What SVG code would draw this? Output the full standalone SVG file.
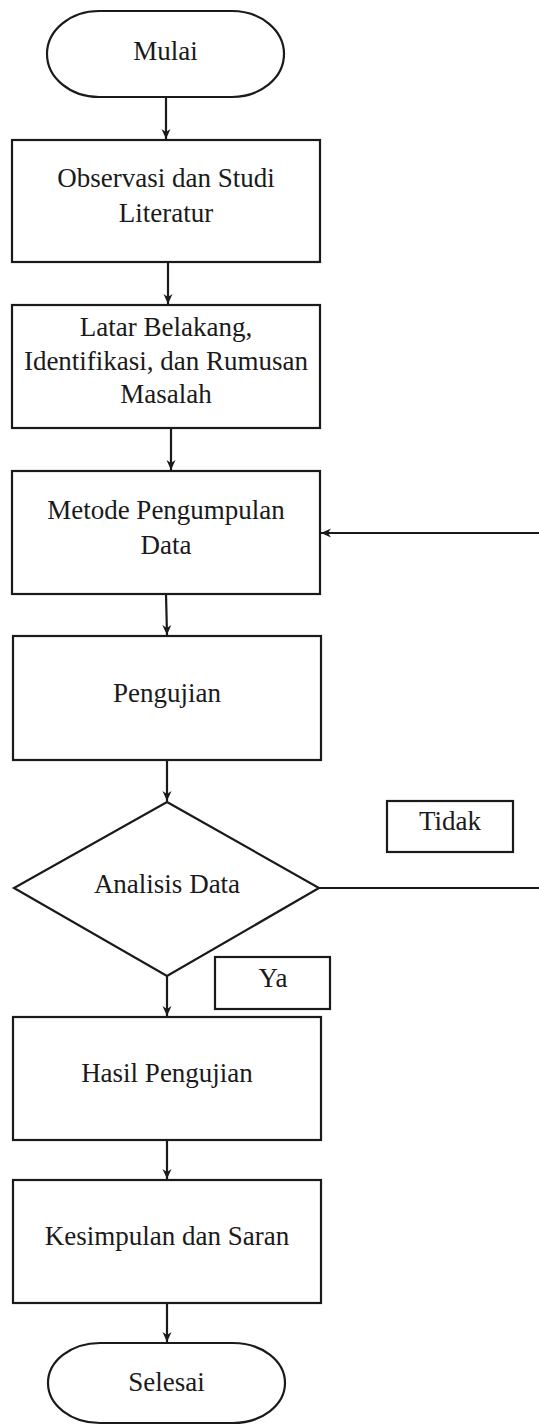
<svg xmlns="http://www.w3.org/2000/svg" width="539" height="1425" viewBox="0 0 539 1425">
<style>
.s{fill:#fff;stroke:#1a1a1a;stroke-width:2.2}
.t{font-family:"Liberation Serif","Times New Roman",serif;font-size:27px;fill:#1a1a1a;text-anchor:middle}
.c{fill:none;stroke:#1a1a1a;stroke-width:2.2}
</style>
<defs>
<marker id="ah" markerUnits="userSpaceOnUse" markerWidth="12" markerHeight="12" viewBox="0 0 12 12" refX="11" refY="6" orient="auto">
<path d="M1,1.5 L11,6 L1,10.5 L4,6 Z" fill="#1a1a1a"/>
</marker>
</defs>
<rect width="539" height="1425" fill="#fff"/>
<g id="connectors">
<line class="c" x1="166" y1="97" x2="166" y2="139" marker-end="url(#ah)"/>
<line class="c" x1="168" y1="262" x2="168" y2="304" marker-end="url(#ah)"/>
<line class="c" x1="171" y1="428" x2="171" y2="470" marker-end="url(#ah)"/>
<line class="c" x1="166" y1="594" x2="167" y2="635" marker-end="url(#ah)"/>
<line class="c" x1="167" y1="760" x2="167" y2="801" marker-end="url(#ah)"/>
<line class="c" x1="319" y1="888" x2="539" y2="888"/>
<line class="c" x1="539" y1="533" x2="321" y2="533" marker-end="url(#ah)"/>
<line class="c" x1="167" y1="976" x2="167" y2="1016" marker-end="url(#ah)"/>
<line class="c" x1="167" y1="1140" x2="167" y2="1179" marker-end="url(#ah)"/>
<line class="c" x1="167" y1="1303" x2="167" y2="1342" marker-end="url(#ah)"/>
</g>
<g id="mulai">
<rect class="s" x="47" y="11" width="237" height="86" rx="52" ry="43"/>
<text class="t" x="165.5" y="60">Mulai</text>
</g>
<g id="observasi">
<rect class="s" x="12" y="140" width="308" height="122"/>
<text class="t" x="166" y="187">Observasi dan Studi</text>
<text class="t" x="166" y="222">Literatur</text>
</g>
<g id="latar">
<rect class="s" x="12" y="305" width="308" height="123"/>
<text class="t" x="166" y="336">Latar Belakang,</text>
<text class="t" x="166" y="370">Identifikasi, dan Rumusan</text>
<text class="t" x="166" y="403">Masalah</text>
</g>
<g id="metode">
<rect class="s" x="12" y="471" width="308" height="123"/>
<text class="t" x="166" y="519">Metode Pengumpulan</text>
<text class="t" x="166" y="554">Data</text>
</g>
<g id="pengujian">
<rect class="s" x="13" y="636" width="308" height="124"/>
<text class="t" x="167" y="702">Pengujian</text>
</g>
<g id="analisis">
<polygon class="s" points="167,802 319,888 167,976 14,888"/>
<text class="t" x="167" y="893">Analisis Data</text>
</g>
<g id="tidak">
<rect class="s" x="387" y="801" width="126" height="51"/>
<text class="t" x="450" y="830">Tidak</text>
</g>
<g id="ya">
<rect class="s" x="215" y="957" width="115" height="52"/>
<text class="t" x="273" y="987">Ya</text>
</g>
<g id="hasil">
<rect class="s" x="13" y="1017" width="308" height="123"/>
<text class="t" x="167" y="1082">Hasil Pengujian</text>
</g>
<g id="kesimpulan">
<rect class="s" x="13" y="1180" width="308" height="123"/>
<text class="t" x="167" y="1245">Kesimpulan dan Saran</text>
</g>
<g id="selesai">
<rect class="s" x="48" y="1343" width="237" height="80" rx="52" ry="40"/>
<text class="t" x="166.5" y="1391">Selesai</text>
</g>
</svg>
